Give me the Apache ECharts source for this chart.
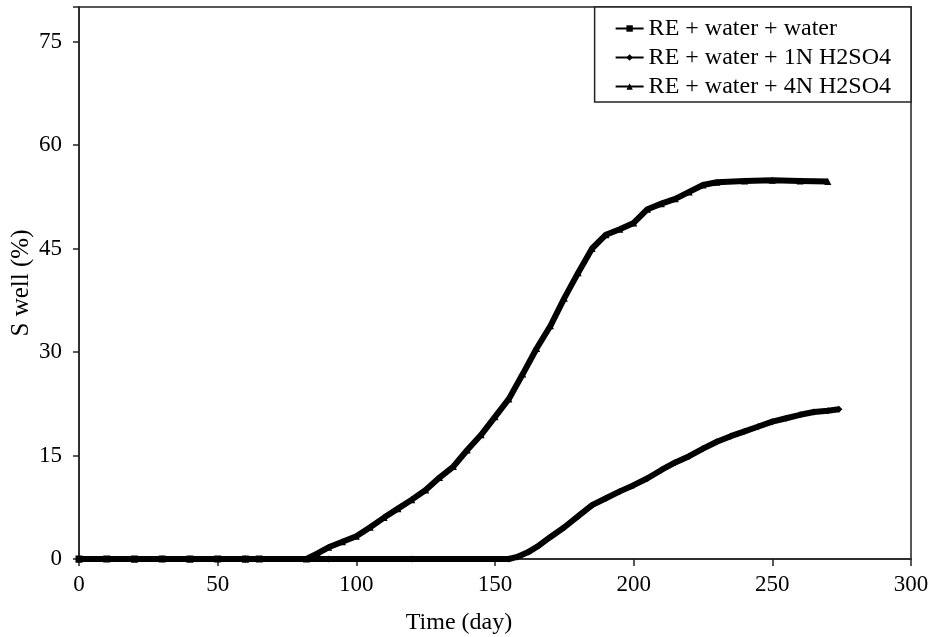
<!DOCTYPE html>
<html>
<head>
<meta charset="utf-8">
<script src="https://cdn.jsdelivr.net/npm/echarts@6/dist/echarts.min.js"></script>
<style>html,body{margin:0;padding:0;background:#fff}#c{width:931px;height:637px}</style>
</head>
<body>
<div id="c"></div>
<script>
var xTicks = [0, 50, 100, 150, 200, 250, 300];
var yTicks = [0, 15, 30, 45, 60, 75];
var seriesNames = ['RE + water + water', 'RE + water + 1N H2SO4', 'RE + water + 4N H2SO4'];
var waterData = [[0,0],[10,0],[20,0],[30,0],[40,0],[50,0],[60,0],[65,0]];
var n1Data = [[0,0],[30,0],[60,0],[90,0],[120,0],[155,0],[158,0.3],[162,1],[166,2],[170,3.2],[175,4.6],[180,6.2],[185,7.8],[190,8.8],[195,9.8],[200,10.7],[205,11.7],[210,12.9],[215,14],[220,14.9],[225,16],[230,17],[235,17.8],[240,18.5],[245,19.2],[250,19.9],[255,20.4],[260,20.9],[265,21.3],[270,21.5],[274,21.7]];
var n4Data = [[0,0],[20,0],[40,0],[60,0],[82,0],[86,0.8],[90,1.7],[95,2.5],[100,3.3],[105,4.6],[110,6],[115,7.3],[120,8.6],[125,10],[130,11.8],[135,13.4],[140,15.8],[145,18],[150,20.6],[155,23.2],[160,26.8],[165,30.5],[170,33.8],[175,37.8],[180,41.5],[185,45],[190,47],[195,47.8],[200,48.7],[205,50.7],[210,51.5],[215,52.2],[220,53.2],[225,54.2],[230,54.6],[240,54.8],[250,54.9],[260,54.8],[270,54.7]];

var font = 'Liberation Serif';
var chart = echarts.init(document.getElementById('c'));
function mk(name, data, sym) {
  return {
    name: name, type: 'line', data: data,
    symbol: sym, symbolSize: 7, showSymbol: true,
    itemStyle: {color: '#000'},
    lineStyle: {color: '#000', width: 6},
    animation: false
  };
}
chart.setOption({
  animation: false,
  grid: {left: 79, right: 20, top: 7, bottom: 78, containLabel: false, outerBoundsMode: 'none', show: true, borderColor: '#222', borderWidth: 1.5},
  legend: {
    orient: 'vertical', right: 20, top: 7,
    data: seriesNames,
    backgroundColor: '#fff', borderColor: '#222', borderWidth: 1.5, borderRadius: 0,
    padding: [7, 20, 1, 20], itemGap: 0, itemWidth: 28, itemHeight: 8,
    textStyle: {fontFamily: font, fontSize: 24, color: '#000', lineHeight: 29},
    lineStyle: {width: 2},
    itemStyle: {color: '#000'}
  },
  xAxis: {
    type: 'value', min: 0, max: 300, interval: 50,
    name: 'Time (day)', nameLocation: 'middle', nameGap: 52,
    nameTextStyle: {fontFamily: font, fontSize: 24, color: '#000', padding: [0, 72, 0, 0]},
    axisLine: {show: true, lineStyle: {color: '#222', width: 1.5}},
    axisTick: {show: true, inside: false, length: 7, lineStyle: {color: '#222', width: 1.5}},
    axisLabel: {fontFamily: font, fontSize: 23, color: '#000', margin: 14},
    splitLine: {show: false}
  },
  yAxis: {
    type: 'value', min: 0, max: 80, interval: 15,
    name: 'S well (%)', nameLocation: 'middle', nameGap: 45, nameMoveOverlap: false,
    nameTextStyle: {fontFamily: font, fontSize: 25, color: '#000'},
    axisLine: {show: true, lineStyle: {color: '#222', width: 1.5}},
    axisTick: {show: true, inside: false, length: 6, lineStyle: {color: '#222', width: 1.5}},
    axisLabel: {fontFamily: font, fontSize: 23, color: '#000', margin: 17,
      formatter: function (v) { return yTicks.indexOf(v) >= 0 ? String(v) : ''; }},
    splitLine: {show: false}
  },
  series: [mk(seriesNames[0], waterData, 'rect'), mk(seriesNames[1], n1Data, 'diamond'), mk(seriesNames[2], n4Data, 'triangle')]
});
</script>
</body>
</html>
